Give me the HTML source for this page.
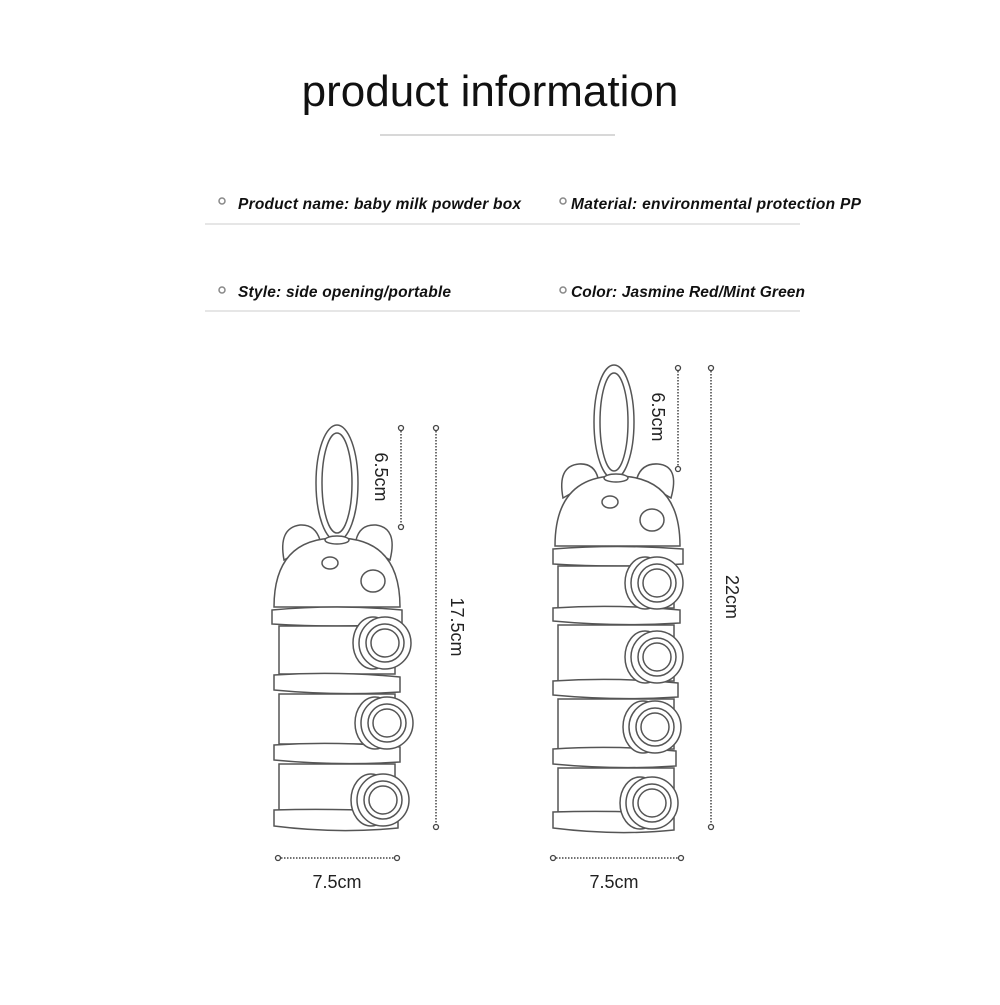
<!DOCTYPE html>
<html><head><meta charset="utf-8"><style>
body{margin:0;background:#fff;width:1000px;height:1000px;overflow:hidden;font-family:"Liberation Sans",sans-serif}
</style></head><body>
<svg width="1000" height="1000" viewBox="0 0 1000 1000" xmlns="http://www.w3.org/2000/svg">
<text x="490" y="106" text-anchor="middle" font-family="Liberation Sans, sans-serif" font-size="44" fill="#111">product information</text>
<line x1="380" y1="135" x2="615" y2="135" stroke="#ccc" stroke-width="1.5"/>
<g font-family="Liberation Sans, sans-serif" font-size="15.5" font-weight="bold" font-style="italic" fill="#111">
<circle cx="222" cy="201" r="3" fill="none" stroke="#888" stroke-width="1.5"/>
<text x="238" y="209" textLength="283">Product name: baby milk powder box</text>
<circle cx="563" cy="201" r="3" fill="none" stroke="#888" stroke-width="1.5"/>
<text x="571" y="209" textLength="290">Material: environmental protection PP</text>
<circle cx="222" cy="290" r="3" fill="none" stroke="#888" stroke-width="1.5"/>
<text x="238" y="297" textLength="213">Style: side opening/portable</text>
<circle cx="563" cy="290" r="3" fill="none" stroke="#888" stroke-width="1.5"/>
<text x="571" y="297" textLength="234">Color: Jasmine Red/Mint Green</text>
</g>
<line x1="205" y1="224" x2="800" y2="224" stroke="#ddd" stroke-width="1.5"/>
<line x1="205" y1="311" x2="800" y2="311" stroke="#ddd" stroke-width="1.5"/>

<g fill="#fff" stroke="#555" stroke-width="1.5">
<!-- LEFT box -->
<ellipse cx="337" cy="483" rx="21" ry="58"/>
<ellipse cx="337" cy="483" rx="15" ry="50"/>
<path d="M284 560 Q278 528 300 525 Q315 524 320 540 Z"/>
<path d="M390 560 Q398 528 376 525 Q360 524 356 540 Z"/>
<path d="M274 607 Q274 538 337 538 Q400 538 400 607 Z"/>
<ellipse cx="337" cy="540" rx="12" ry="4"/>
<ellipse cx="330" cy="563" rx="8" ry="6"/>
<ellipse cx="373" cy="581" rx="12" ry="11"/>
<path d="M272 610 Q337 604 402 610 L402 624 Q337 628 272 624 Z"/>
<rect x="279" y="626" width="116" height="48"/>
<path d="M274 675 Q337 671 400 677 L400 692 Q337 696 274 690 Z"/>
<rect x="279" y="694" width="116" height="50"/>
<path d="M274 745 Q337 741 400 747 L400 762 Q337 766 274 760 Z"/>
<rect x="279" y="764" width="116" height="46"/>
<path d="M274 810 Q337 808 398 812 L398 828 Q337 834 274 826 Z"/>
<g><ellipse cx="373" cy="643" rx="20" ry="26"/><circle cx="385" cy="643" r="26"/><circle cx="385" cy="643" r="19"/><circle cx="385" cy="643" r="14"/></g>
<g><ellipse cx="375" cy="723" rx="20" ry="26"/><circle cx="387" cy="723" r="26"/><circle cx="387" cy="723" r="19"/><circle cx="387" cy="723" r="14"/></g>
<g><ellipse cx="371" cy="800" rx="20" ry="26"/><circle cx="383" cy="800" r="26"/><circle cx="383" cy="800" r="19"/><circle cx="383" cy="800" r="14"/></g>

<!-- RIGHT box -->
<ellipse cx="614" cy="422" rx="20" ry="57"/>
<ellipse cx="614" cy="422" rx="14" ry="49"/>
<path d="M563 498 Q557 466 579 464 Q594 463 598 478 Z"/>
<path d="M671 498 Q680 466 658 464 Q642 463 637 478 Z"/>
<path d="M555 546 Q555 476 617 476 Q680 476 680 546 Z"/>
<ellipse cx="616" cy="478" rx="12" ry="4"/>
<ellipse cx="610" cy="502" rx="8" ry="6"/>
<ellipse cx="652" cy="520" rx="12" ry="11"/>
<path d="M553 549 Q617 544 683 549 L683 564 Q617 568 553 564 Z"/>
<rect x="558" y="566" width="116" height="42"/>
<path d="M553 608 Q617 604 680 610 L680 623 Q617 627 553 621 Z"/>
<rect x="558" y="625" width="116" height="56"/>
<path d="M553 681 Q617 677 678 683 L678 697 Q617 701 553 695 Z"/>
<rect x="558" y="699" width="116" height="50"/>
<path d="M553 749 Q617 745 676 751 L676 766 Q617 770 553 764 Z"/>
<rect x="558" y="768" width="116" height="44"/>
<path d="M553 812 Q617 810 674 814 L674 830 Q617 836 553 828 Z"/>
<g><ellipse cx="645" cy="583" rx="20" ry="26"/><circle cx="657" cy="583" r="26"/><circle cx="657" cy="583" r="19"/><circle cx="657" cy="583" r="14"/></g>
<g><ellipse cx="645" cy="657" rx="20" ry="26"/><circle cx="657" cy="657" r="26"/><circle cx="657" cy="657" r="19"/><circle cx="657" cy="657" r="14"/></g>
<g><ellipse cx="643" cy="727" rx="20" ry="26"/><circle cx="655" cy="727" r="26"/><circle cx="655" cy="727" r="19"/><circle cx="655" cy="727" r="14"/></g>
<g><ellipse cx="640" cy="803" rx="20" ry="26"/><circle cx="652" cy="803" r="26"/><circle cx="652" cy="803" r="19"/><circle cx="652" cy="803" r="14"/></g>
</g>

<!-- dimension lines -->
<g stroke="#444" stroke-width="1.5" stroke-dasharray="1.5 1.5" fill="none">
<line x1="401" y1="428" x2="401" y2="527"/>
<line x1="436" y1="428" x2="436" y2="827"/>
<line x1="678" y1="368" x2="678" y2="469"/>
<line x1="711" y1="368" x2="711" y2="827"/>
<line x1="278" y1="858" x2="397" y2="858"/>
<line x1="553" y1="858" x2="681" y2="858"/>
</g>
<g fill="#fff" stroke="#444" stroke-width="1.3">
<circle cx="401" cy="428" r="2.5"/><circle cx="401" cy="527" r="2.5"/>
<circle cx="436" cy="428" r="2.5"/><circle cx="436" cy="827" r="2.5"/>
<circle cx="678" cy="368" r="2.5"/><circle cx="678" cy="469" r="2.5"/>
<circle cx="711" cy="368" r="2.5"/><circle cx="711" cy="827" r="2.5"/>
<circle cx="278" cy="858" r="2.5"/><circle cx="397" cy="858" r="2.5"/>
<circle cx="553" cy="858" r="2.5"/><circle cx="681" cy="858" r="2.5"/>
</g>
<g font-family="Liberation Sans, sans-serif" font-size="18" fill="#222">
<text transform="translate(375,477) rotate(90)" text-anchor="middle">6.5cm</text>
<text transform="translate(451,627) rotate(90)" text-anchor="middle">17.5cm</text>
<text transform="translate(652,417) rotate(90)" text-anchor="middle">6.5cm</text>
<text transform="translate(726,597) rotate(90)" text-anchor="middle">22cm</text>
<text x="337" y="888" text-anchor="middle">7.5cm</text>
<text x="614" y="888" text-anchor="middle">7.5cm</text>
</g>
</svg>
</body></html>
